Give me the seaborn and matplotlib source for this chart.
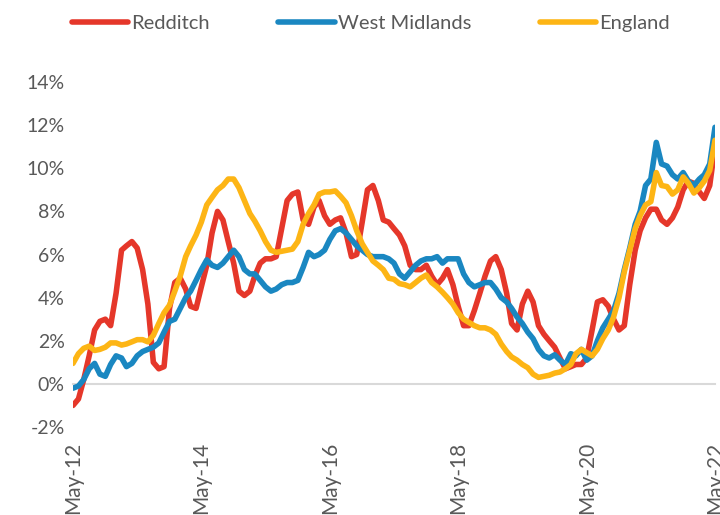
import pandas as pd
import matplotlib
matplotlib.use('Agg')
import matplotlib.pyplot as plt
import matplotlib.dates as mdates
from matplotlib.lines import Line2D
import seaborn as sns

# monthly house price growth, May-12 to May-22 (%)
months = pd.date_range('2012-05-01', periods=121, freq='MS')

redditch = [
    -1.0, -0.7, 0.2, 1.3, 2.5, 2.9, 3.0, 2.7, 4.2, 6.2,
    6.4, 6.6, 6.3, 5.3, 3.7, 1.0, 0.7, 0.8, 3.5, 4.7,
    4.9, 4.4, 3.6, 3.5, 4.5, 5.5, 7.0, 8.0, 7.6, 6.6,
    5.6, 4.3, 4.1, 4.3, 5.0, 5.6, 5.8, 5.8, 5.9, 7.2,
    8.5, 8.8, 8.9, 7.6, 7.4, 8.2, 8.5, 7.8, 7.4, 7.6,
    7.7, 7.0, 5.9, 6.0, 7.5, 9.0, 9.2, 8.5, 7.6, 7.5,
    7.2, 6.9, 6.4, 5.5, 5.3, 5.3, 5.5, 5.0, 4.6, 4.9,
    5.3, 4.6, 3.6, 2.7, 2.7, 3.4, 4.2, 5.0, 5.7, 5.9,
    5.3, 4.2, 2.8, 2.5, 3.7, 4.3, 3.8, 2.7, 2.3, 2.0,
    1.7, 1.2, 0.7, 0.8, 0.9, 0.9, 1.2, 2.5, 3.8, 3.9,
    3.6, 3.0, 2.5, 2.7, 4.6, 6.2, 7.1, 7.7, 8.1, 8.1,
    7.6, 7.4, 7.7, 8.2, 9.0, 9.4, 9.3, 8.9, 8.6, 9.2,
    11.0,
]
west_midlands = [
    -0.2, -0.1, 0.2, 0.7, 0.95, 0.45, 0.35, 0.9, 1.3, 1.2,
    0.8, 0.95, 1.3, 1.5, 1.6, 1.7, 1.9, 2.4, 2.9, 3.0,
    3.5, 4.0, 4.3, 4.8, 5.3, 5.75, 5.5, 5.4, 5.6, 5.9,
    6.2, 5.9, 5.3, 5.1, 5.1, 4.8, 4.5, 4.3, 4.4, 4.6,
    4.7, 4.7, 4.8, 5.4, 6.1, 5.9, 6.0, 6.2, 6.7, 7.1,
    7.2, 7.0, 6.7, 6.4, 6.2, 6.0, 5.9, 5.9, 5.9, 5.8,
    5.6, 5.1, 4.9, 5.2, 5.5, 5.7, 5.8, 5.8, 5.9, 5.6,
    5.8, 5.8, 5.8, 5.1, 4.7, 4.5, 4.6, 4.7, 4.7, 4.4,
    4.0, 3.8, 3.5, 3.1, 2.8, 2.4, 2.1, 1.6, 1.3, 1.2,
    1.35, 1.1, 0.9, 1.4, 1.3, 1.6, 1.1, 1.3, 2.0, 2.6,
    3.0, 3.4, 4.2, 5.3, 6.3, 7.4, 8.0, 9.2, 9.5, 11.2,
    10.2, 10.1, 9.7, 9.5, 9.8, 9.4, 9.2, 9.5, 9.7, 10.2,
    11.9,
]
england = [
    0.95, 1.4, 1.65, 1.75, 1.55, 1.6, 1.7, 1.9, 1.9, 1.8,
    1.85, 1.95, 2.05, 2.05, 1.95, 2.25, 2.8, 3.3, 3.65, 4.3,
    5.0, 5.9, 6.4, 6.9, 7.5, 8.3, 8.65, 9.0, 9.2, 9.5,
    9.5, 9.1, 8.5, 7.9, 7.55, 7.1, 6.6, 6.2, 6.1, 6.15,
    6.2, 6.25, 6.6, 7.4, 7.9, 8.3, 8.8, 8.9, 8.9, 8.95,
    8.7, 8.4, 7.8, 7.1, 6.5, 6.1, 5.7, 5.5, 5.3, 4.9,
    4.85, 4.65, 4.6, 4.5, 4.7, 4.9, 5.05, 4.7, 4.5, 4.25,
    4.0, 3.7, 3.3, 3.0, 2.85, 2.7, 2.6, 2.6, 2.5, 2.3,
    1.85, 1.5, 1.25, 1.1, 0.9, 0.75, 0.45, 0.3, 0.35, 0.4,
    0.5, 0.55, 0.7, 0.9, 1.4, 1.6, 1.45, 1.3, 1.6, 2.1,
    2.5, 3.1, 4.0, 5.2, 6.2, 7.2, 7.8, 8.3, 8.45, 9.8,
    9.2, 9.15, 8.8, 9.0, 9.6, 9.3, 8.85, 9.1, 9.4, 9.9,
    11.3,
]

areas = ['Redditch', 'West Midlands', 'England']
colours = {'Redditch': '#E5372A', 'West Midlands': '#1A87C1', 'England': '#FDB515'}
grey = '#595959'

df = pd.concat([
    pd.DataFrame({'month': months, 'growth': vals, 'area': name})
    for name, vals in zip(areas, [redditch, west_midlands, england])
])

sns.set_style('white')
plt.rcParams['font.family'] = ['Lato', 'DejaVu Sans']

fig = plt.figure(figsize=(7.2, 5.15), dpi=100)
ax = fig.add_axes([73 / 720, 1 - 427 / 515, (715 - 73) / 720, (427 - 82) / 515])

sns.lineplot(data=df, x='month', y='growth', hue='area', hue_order=areas,
             palette=colours, linewidth=4, legend=False, ax=ax,
             solid_capstyle='round', solid_joinstyle='round')

ax.set_xlim(months[0], months[-1])
ax.set_ylim(-2, 14)
ax.set_yticks(range(-2, 15, 2))
ax.yaxis.set_major_formatter(plt.FuncFormatter(lambda v, p: f'{v:.0f}%'))
ax.xaxis.set_major_locator(mdates.YearLocator(base=2, month=5))
ax.xaxis.set_major_formatter(mdates.DateFormatter('%b-%y'))
ax.set_xlabel('')
ax.set_ylabel('')

for s in ['top', 'right', 'left']:
    ax.spines[s].set_visible(False)
ax.spines['bottom'].set_position(('data', 0))
ax.spines['bottom'].set_color('#D9D9D9')
ax.spines['bottom'].set_linewidth(1.5)
ax.spines['bottom'].set_zorder(0.5)
ax.tick_params(axis='y', length=0, pad=6, labelsize=14, labelcolor=grey)
ax.tick_params(axis='x', direction='out', length=4, width=1.5, color='#D9D9D9',
               pad=38, labelsize=15, labelcolor=grey, labelrotation=90)

handles = [Line2D([], [], color=colours[a], lw=4, solid_capstyle='round') for a in areas]
leg = fig.legend(handles, areas, loc='center', bbox_to_anchor=(0.515, 1 - 23 / 515),
                 ncol=3, frameon=False, fontsize=14.5, handlelength=2.8,
                 handletextpad=0.15, columnspacing=3.4, labelcolor=grey)

fig.savefig('out.png', dpi=100)
